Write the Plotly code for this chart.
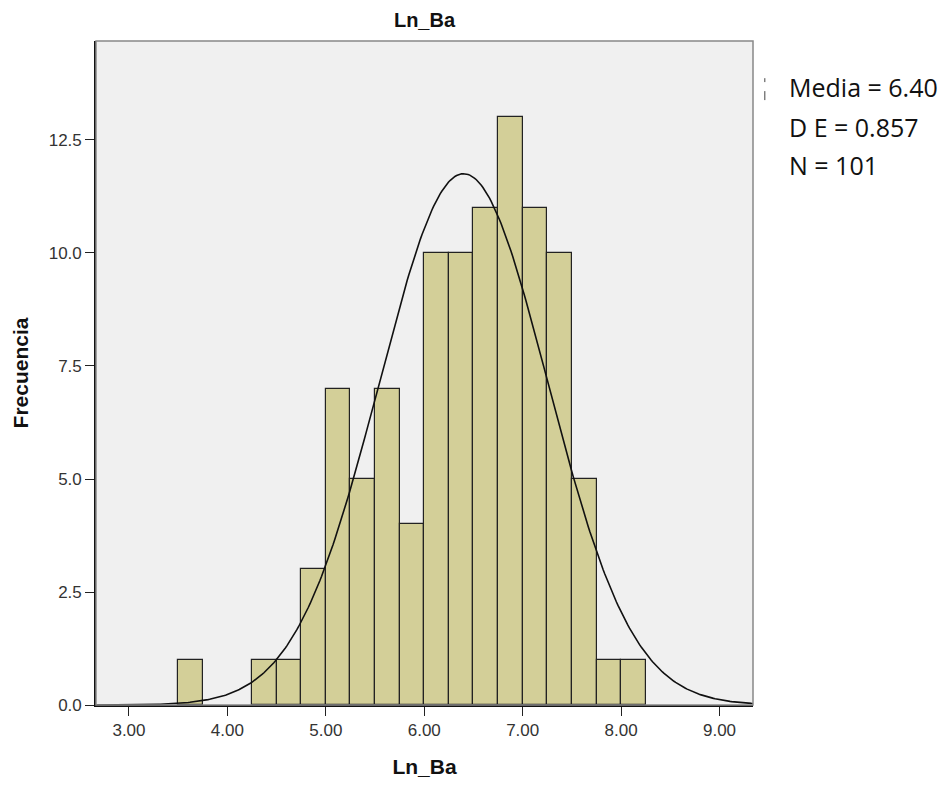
import numpy as np
import plotly.graph_objects as go

# Histogram bins (left edges, width 0.25) and frequencies
bin_left = [3.50, 4.25, 4.50, 4.75, 5.00, 5.25, 5.50, 5.75, 6.00, 6.25, 6.50, 6.75, 7.00, 7.25, 7.50, 7.75, 8.00]
counts = [1, 1, 1, 3, 7, 5, 7, 4, 10, 10, 11, 13, 11, 10, 5, 1, 1]
bin_width = 0.25

# Summary statistics shown on the chart
mean_val = 6.40
sd_val = 0.857
n_val = 101

x_ticks = [3, 4, 5, 6, 7, 8, 9]
y_ticks = [0, 2.5, 5.0, 7.5, 10.0, 12.5]

x_range = [2.665, 9.34]
y_range = [0, 14.69]

centers = [b + bin_width / 2 for b in bin_left]

# Fitted normal curve scaled to counts
xc = np.linspace(x_range[0], x_range[1], 400)
yc = n_val * bin_width / (sd_val * np.sqrt(2 * np.pi)) * np.exp(-0.5 * ((xc - mean_val) / sd_val) ** 2)

W, H = 939, 779  # page body has an 8px margin

fig = go.Figure()
fig.add_trace(go.Bar(
    x=centers, y=counts, width=bin_width,
    marker=dict(color="#D3CF98", line=dict(color="#222222", width=1.2)),
    hoverinfo="x+y", showlegend=False,
))
fig.add_trace(go.Scatter(
    x=xc, y=yc, mode="lines",
    line=dict(color="#111111", width=1.6),
    showlegend=False, hoverinfo="skip",
))

fig.update_layout(
    width=W, height=H,
    margin=dict(l=88, r=194, t=33, b=80),
    paper_bgcolor="white",
    plot_bgcolor="#F0F0F0",
    bargap=0,
    font=dict(family="Liberation Sans, Arial, sans-serif", color="#222222"),
    title=dict(text="<b>Ln_Ba</b>", x=(88 + 745) / 2 / W, xanchor="center",
               y=1 - 12 / H, yanchor="middle",
               font=dict(size=20, color="#111111")),
    shapes=[
        dict(type="rect", xref="paper", yref="paper", x0=0, x1=1, y0=0, y1=1,
             line=dict(color="#888888", width=1.5), layer="above"),
        dict(type="line", xref="paper", yref="paper", x0=1.018, x1=1.018,
             y0=0.911, y1=0.944, line=dict(color="#444444", width=1, dash="dash")),
    ],
    annotations=[
        dict(text=t, xref="paper", yref="paper", x=1.052, y=yy, xanchor="left",
             yanchor="middle", showarrow=False,
             font=dict(family="Open Sans, Noto Sans, sans-serif", size=25, color="#111111"))
        for t, yy in [("Media = 6.40", 0.931), ("D E = 0.857", 0.871), ("N = 101", 0.814)]
    ],
)

fig.update_xaxes(
    range=x_range, tickvals=x_ticks, ticktext=[f"{v:.2f}" for v in x_ticks],
    ticks="outside", ticklen=9, tickwidth=1.4, tickcolor="#222222",
    showline=True, linecolor="#111111", linewidth=1.6,
    showgrid=False, zeroline=False,
    tickfont=dict(size=17, color="#333333"),
    title=dict(text="<b>Ln_Ba</b>", font=dict(size=21, color="#111111"), standoff=20),
)
fig.update_yaxes(
    range=y_range, tickvals=y_ticks, ticktext=[f"{v:.1f}" for v in y_ticks],
    ticks="outside", ticklen=9, tickwidth=1.4, tickcolor="#222222",
    showline=True, linecolor="#111111", linewidth=1.6,
    showgrid=False, zeroline=False,
    tickfont=dict(size=17, color="#333333"),
    title=dict(text="<b>Frecuencia</b>", font=dict(size=21, color="#111111"), standoff=14),
)

fig.write_html("out.html")
